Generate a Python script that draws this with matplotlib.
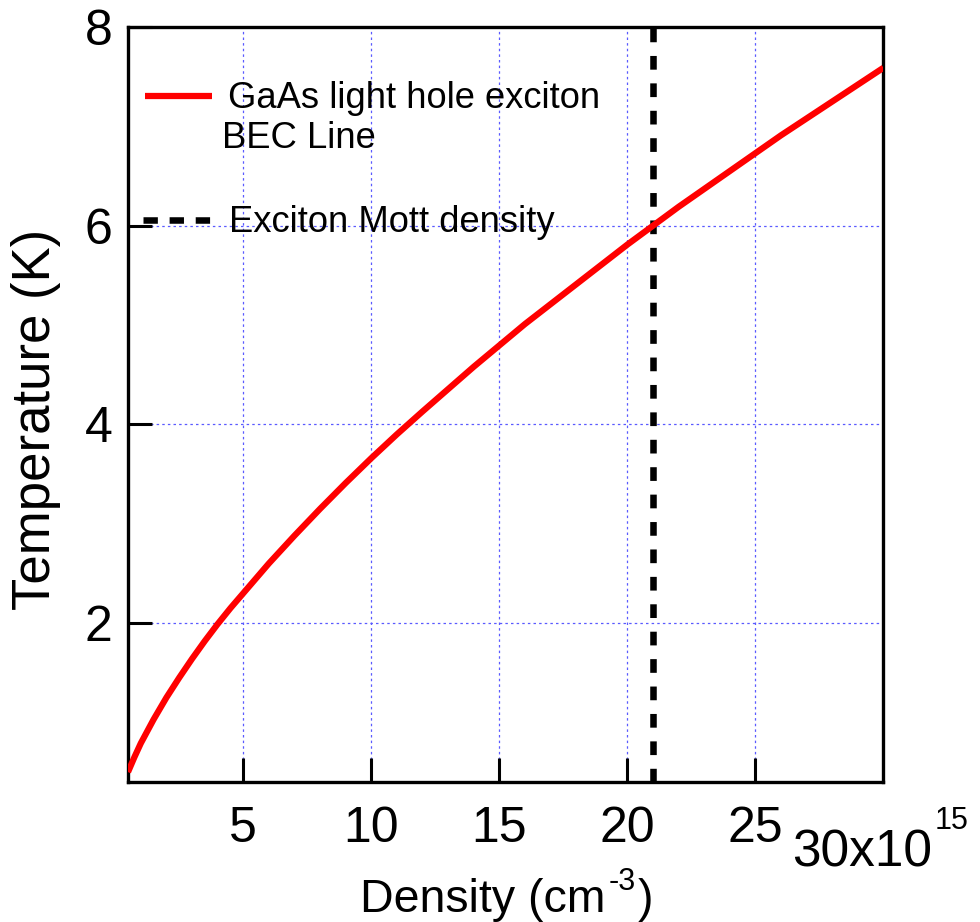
import matplotlib
matplotlib.use("Agg")
import matplotlib.pyplot as plt
from matplotlib.lines import Line2D

plt.rcParams["font.family"] = ["Liberation Sans", "DejaVu Sans"]

# exciton density (units of 1e15 cm^-3) and BEC temperature (K)
density = [0.5, 0.75, 1.0, 1.5, 2.0, 2.5, 3.0, 3.5, 4.0, 4.5, 5.0, 6.0, 7.0, 8.0, 9.0,
           10.0, 11.0, 12.0, 14.0, 16.0, 18.0, 20.0, 22.0, 24.0, 26.0, 28.0, 30.0]
t_bec = [0.50, 0.65, 0.79, 1.03, 1.25, 1.45, 1.64, 1.82, 1.99, 2.15, 2.30, 2.60,
         2.88, 3.15, 3.41, 3.66, 3.90, 4.13, 4.58, 5.01, 5.41, 5.81, 6.19, 6.55,
         6.91, 7.25, 7.59]
mott_density = 21.0

x_ticks = [5, 10, 15, 20, 25]
y_ticks = [2, 4, 6, 8]

W, H = 980, 922


def px(x, y):
    # pixel position (from top-left) -> figure fraction
    return x / W, 1 - y / H


def text_after(prev, s, dy, size, gap=2):
    # put a text right after another one, shifted up by dy pixels
    bb = prev.get_window_extent(fig.canvas.get_renderer())
    x0, y0 = prev.get_position()
    return fig.text((bb.x1 + gap) / W, y0 + dy / H, s, fontsize=size,
                    ha="left", va="baseline")


fig = plt.figure(figsize=(W / 100, H / 100), dpi=100)
ax = fig.add_axes([0.1306, 0.1518, 0.7709, 0.8189])

ax.grid(True, color="#5a5aff", linestyle=(0, (2, 2.5)), linewidth=0.9)
ax.set_axisbelow(True)

ax.axvline(mott_density, color="black", lw=4.7, linestyle=(0, (2.1, 2.1)), zorder=2)
ax.plot(density, t_bec, color="#ff0000", lw=4.5, zorder=3, solid_capstyle="butt")

ax.set_xlim(0.5, 30)
ax.set_ylim(0.4, 8)
ax.set_xticks(x_ticks)
ax.set_yticks(y_ticks)
ax.tick_params(direction="in", length=17, width=2.2, labelsize=36, color="black")
ax.tick_params(axis="x", pad=17)
ax.tick_params(axis="y", pad=11)
for s in ax.spines.values():
    s.set_linewidth(2.4)

fig.canvas.draw()

# scale factor label at the right end of the x axis
t = fig.text(*px(792, 866), "30x10", fontsize=37, ha="left", va="baseline")
text_after(t, "15", 37, 22, gap=3)

t = fig.text(*px(360, 912), "Density (cm", fontsize=33.5, ha="left", va="baseline")
t = text_after(t, "-3", 22, 22, gap=3)
text_after(t, ")", -22, 33.5, gap=2)
fig.text(*px(36, 419), "Temperature (K)", fontsize=38, rotation=90,
         ha="center", va="center")

# legend
fig.add_artist(Line2D([145 / W, 212 / W], [1 - 96.5 / H, 1 - 96.5 / H],
                      color="#ff0000", lw=4.5, solid_capstyle="butt"))
fig.add_artist(Line2D([143 / W, 212 / W], [1 - 220 / H, 1 - 220 / H],
                      color="black", lw=4.7, linestyle=(0, (2.2, 1.8))))
fig.text(*px(228, 108), "GaAs light hole exciton", fontsize=26.2, ha="left", va="baseline")
fig.text(*px(222, 148), "BEC Line", fontsize=26.2, ha="left", va="baseline")
fig.text(*px(229, 232), "Exciton Mott density", fontsize=26.2, ha="left", va="baseline")

fig.savefig("out.png", dpi=100)
